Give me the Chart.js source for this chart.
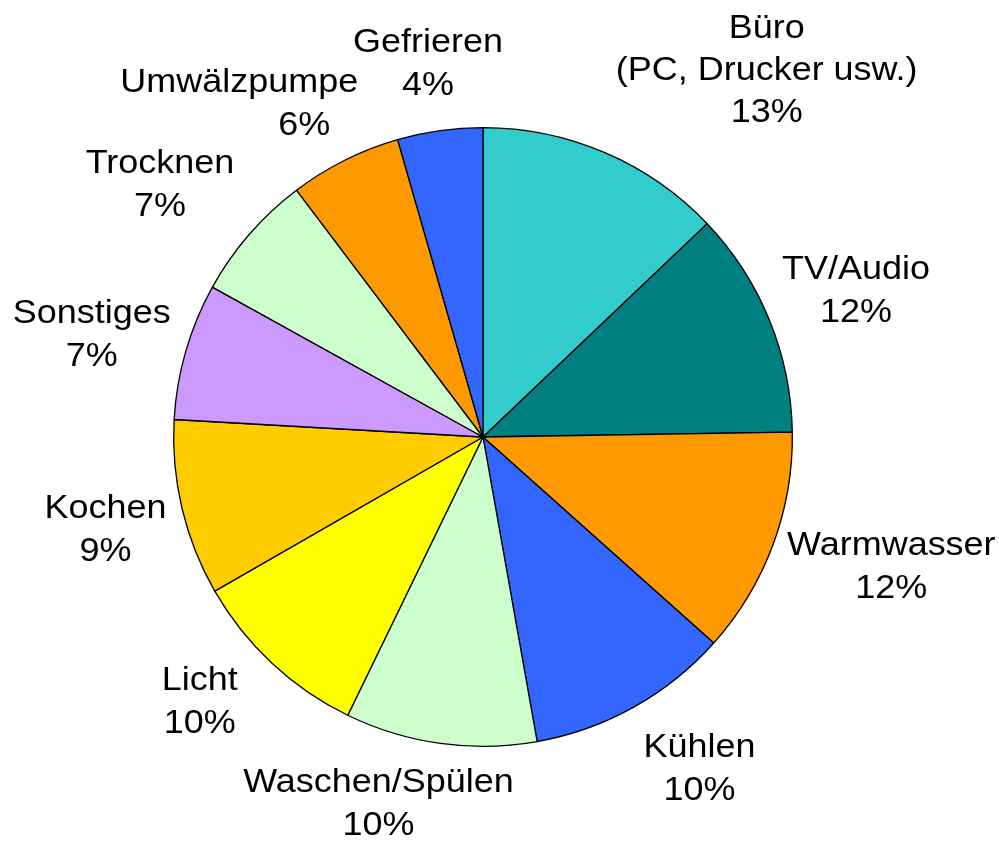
<!DOCTYPE html>
<html>
<head>
<meta charset="utf-8">
<style>
  html, body { margin: 0; padding: 0; background: #ffffff; }
  #wrap { width: 999px; height: 841px; }
</style>
<script src="https://cdn.jsdelivr.net/npm/chart.js@4/dist/chart.umd.min.js"></script>
</head>
<body>
<div id="wrap"><canvas id="c" width="999" height="841"></canvas></div>
<script>
// ---- data ----
const categories = [
  ["Büro", "(PC, Drucker usw.)"],
  ["TV/Audio"],
  ["Warmwasser"],
  ["Kühlen"],
  ["Waschen/Spülen"],
  ["Licht"],
  ["Kochen"],
  ["Sonstiges"],
  ["Trocknen"],
  ["Umwälzpumpe"],
  ["Gefrieren"]
];
const shares = [12.9, 11.85, 11.85, 10.6, 10.0, 9.5, 9.2, 7.15, 6.65, 5.85, 4.45];
const percentLabels = ["13%", "12%", "12%", "10%", "10%", "10%", "9%", "7%", "7%", "6%", "4%"];

// ---- styles ----
const sliceColors = ["#33CCCC", "#008080", "#FF9900", "#3366FF", "#CCFFCC",
                     "#FFFF00", "#FFCC00", "#CC99FF", "#CCFFCC", "#FF9900", "#3366FF"];
// label placement: [centre x, first baseline y] offsets from pie centre in units of radius,
// plus optional x shift of the percent line (px)
const labelPlace = [
  [0.917, -1.291, 0],
  [1.206, -0.510, 0],
  [1.320,  0.383, 0],
  [0.700,  1.035, 0],
  [-0.338, 1.148, 0],
  [-0.916, 0.818, 0],
  [-1.220, 0.263, 0],
  [-1.265, -0.367, 0],
  [-1.044, -0.853, 0],
  [-0.788, -1.114, 65],
  [-0.178, -1.243, 0]
];
const lineGap = 43;

const labelPlugin = {
  id: 'outerLabels',
  afterDatasetsDraw(chart) {
    const meta = chart.getDatasetMeta(0);
    const ctx = chart.ctx;
    ctx.save();
    ctx.fillStyle = '#000000';
    ctx.font = '33px "Liberation Sans", Arial, sans-serif';
    ctx.textAlign = 'center';
    ctx.textBaseline = 'alphabetic';
    meta.data.forEach((arc, i) => {
      const R = arc.outerRadius;
      const [fx, fy, pShift] = labelPlace[i];
      const cx = arc.x + fx * R;
      let y = arc.y + fy * R;
      const lines = categories[i].slice();
      const all = lines.concat([percentLabels[i]]);
      all.forEach((t, k) => {
        const xs = (k === all.length - 1) ? cx + pShift : cx;
        ctx.save();
        ctx.translate(xs, y);
        ctx.scale(1.09, 1);
        ctx.fillText(t, 0, 0);
        ctx.restore();
        y += (all.length === 3 ? 42 : lineGap);
      });
    });
    ctx.restore();
  }
};

new Chart(document.getElementById('c'), {
  type: 'pie',
  data: {
    labels: categories.map(c => c.join(' ')),
    datasets: [{
      data: shares,
      backgroundColor: sliceColors,
      borderColor: '#000000',
      borderWidth: 1.3,
      hoverOffset: 0
    }]
  },
  options: {
    responsive: false,
    devicePixelRatio: 1,
    animation: false,
    layout: { padding: { left: 173, top: 127, right: 206, bottom: 94 } },
    plugins: {
      legend: { display: false },
      tooltip: { enabled: false }
    }
  },
  plugins: [labelPlugin]
});
</script>
</body>
</html>
